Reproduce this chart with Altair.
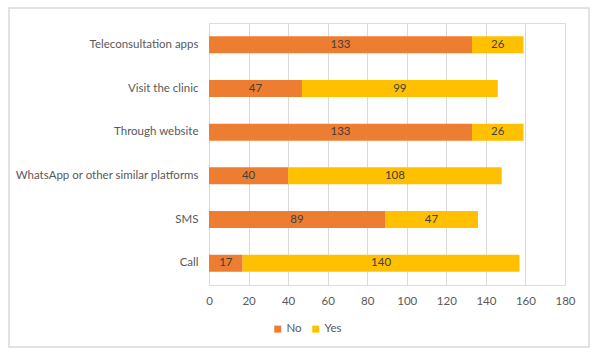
import altair as alt
import pandas as pd

categories = ["Teleconsultation apps", "Visit the clinic", "Through website",
              "WhatsApp or other similar platforms", "SMS", "Call"]
no_values = [133, 47, 133, 40, 89, 17]
yes_values = [26, 99, 26, 108, 47, 140]
series = ["No", "Yes"]
colors = ["#ED7D31", "#FFC000"]
x_ticks = [0, 20, 40, 60, 80, 100, 120, 140, 160, 180]

rows = []
for c, n, y in zip(categories, no_values, yes_values):
    rows.append({"cat": c, "series": "No", "value": n, "ord": 0})
    rows.append({"cat": c, "series": "Yes", "value": y, "ord": 1})
df = pd.DataFrame(rows)

FONT = "Lato"
FS = 11.5
TXT = "#595959"

base = alt.Chart(df).transform_stack(
    stack="value", as_=["x0", "x1"], groupby=["cat"],
    sort=[alt.SortField("ord", order="ascending")]
).transform_calculate(mid="(datum.x0 + datum.x1) / 2")

y_axis = alt.Axis(domain=False, ticks=False, labelPadding=11,
                  labelFont=FONT, labelFontSize=FS, labelColor=TXT,
                  labelLimit=300)
y_scale = alt.Scale(paddingInner=0.61, paddingOuter=0.305)
x_axis = alt.Axis(values=x_ticks, domain=False, ticks=False,
                  labelOverlap=False, labelFlush=False,
                  gridColor="#D9D9D9", gridWidth=1, labelPadding=10,
                  labelFont=FONT, labelFontSize=FS, labelColor=TXT)
x_scale = alt.Scale(domain=[0, 180], nice=False)

bars = base.mark_bar().encode(
    x=alt.X("x0:Q", title=None, scale=x_scale, axis=x_axis),
    x2="x1:Q",
    y=alt.Y("cat:N", sort=categories, title=None, scale=y_scale, axis=y_axis),
    color=alt.Color("series:N", scale=alt.Scale(domain=series, range=colors),
                    title=None,
                    legend=alt.Legend(orient="none", direction="horizontal",
                                      legendX=63, legendY=300,
                                      symbolType="square", symbolSize=49,
                                      symbolStrokeWidth=0, labelOffset=3,
                                      labelFont=FONT, labelFontSize=FS,
                                      labelColor=TXT, columnPadding=8,
                                      symbolOffset=0)),
    order=alt.Order("ord:Q"),
)

labels = base.mark_text(font=FONT, fontSize=FS, color="#404040").encode(
    x=alt.X("mid:Q", title=None, scale=x_scale, axis=x_axis),
    y=alt.Y("cat:N", sort=categories, title=None, scale=y_scale, axis=y_axis),
    text=alt.Text("value:Q"),
)

border = alt.Chart(pd.DataFrame({"a": [0]})).mark_rect(
    fill="transparent", stroke="#D9D9D9", strokeWidth=1.5
).encode(x=alt.value(-200), x2=alt.value(380), y=alt.value(-15), y2=alt.value(324))

chart = alt.layer(border, bars, labels).properties(
    width=356, height=262,
    padding={"left": 209, "top": 23, "right": 35, "bottom": 67},
    autosize=alt.AutoSizeParams(type="none"),
).configure_view(strokeWidth=0).configure(background="white")

chart.save("out.html", embed_options={"renderer": "svg", "actions": False})
